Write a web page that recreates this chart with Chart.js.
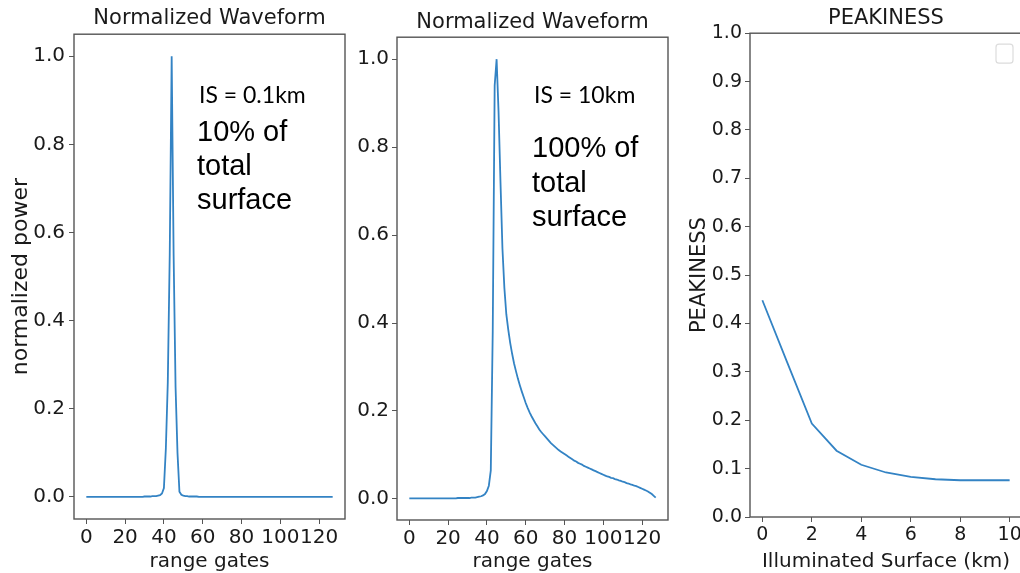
<!DOCTYPE html>
<html>
<head>
<meta charset="utf-8">
<script src="https://cdn.jsdelivr.net/npm/chart.js@4.4.1/dist/chart.umd.min.js"></script>
<style>
  html, body { margin: 0; padding: 0; background: #fff; overflow: hidden; width: 1020px; height: 573px; }
  canvas { position: absolute; top: 0; }
  .note { position: absolute; color: #000; white-space: nowrap; }
  .is { font-family: Lato, sans-serif; font-size: 23px; line-height: 24px; }
  .pct { font-family: "Liberation Sans", Arial, sans-serif; font-size: 29px; line-height: 34px; }
</style>
</head>
<body>
<canvas id="wfNarrow" width="352" height="590" style="left:0px"></canvas>
<canvas id="wfBroad" width="335" height="590" style="left:340px"></canvas>
<canvas id="peak" width="352" height="590" style="left:680px"></canvas>

<div class="note is" style="left:199px; top:82px">IS = 0.1km</div>
<div class="note pct" style="left:197px; top:114px; line-height:34px">10% of<br>total<br>surface</div>
<div class="note is" style="left:534px; top:82px">IS = 10km</div>
<div class="note pct" style="left:532px; top:130px; line-height:34.5px">100% of<br>total<br>surface</div>

<script>
// range gate index of each waveform sample
const gates = Array.from({length: 128}, (_, i) => i);

// normalized waveform, IS = 0.1 km
const narrowPower = [
  0, 0, 0, 0, 0, 0, 0, 0, 0, 0,
  0, 0, 0, 0, 0, 0, 0, 0, 0, 0,
  0, 0, 0, 0, 0, 0, 0, 0, 0, 0,
  0.001, 0.001, 0.001, 0.001, 0.002, 0.002, 0.002, 0.003, 0.004, 0.008,
  0.02, 0.11, 0.26, 0.55, 1.0, 0.55, 0.25, 0.10, 0.012, 0.005,
  0.003, 0.002, 0.002, 0.001, 0.001, 0.001, 0.001, 0.001, 0, 0,
  0, 0, 0, 0, 0, 0, 0, 0, 0, 0,
  0, 0, 0, 0, 0, 0, 0, 0, 0, 0,
  0, 0, 0, 0, 0, 0, 0, 0, 0, 0,
  0, 0, 0, 0, 0, 0, 0, 0, 0, 0,
  0, 0, 0, 0, 0, 0, 0, 0, 0, 0,
  0, 0, 0, 0, 0, 0, 0, 0, 0, 0,
  0, 0, 0, 0, 0, 0, 0, 0
];

// normalized waveform, IS = 10 km
const broadPower = [
  0.001, 0.001, 0.001, 0.001, 0.001, 0.001, 0.001, 0.001, 0.001, 0.001,
  0.001, 0.001, 0.001, 0.001, 0.001, 0.001, 0.001, 0.001, 0.001, 0.001,
  0.001, 0.001, 0.001, 0.001, 0.001, 0.002, 0.002, 0.002, 0.002, 0.002,
  0.002, 0.002, 0.003, 0.003, 0.003, 0.004, 0.005, 0.006, 0.008, 0.011,
  0.018, 0.03, 0.065, 0.38, 0.94, 1.0, 0.88, 0.72, 0.57, 0.48,
  0.42, 0.385, 0.355, 0.33, 0.308, 0.29, 0.273, 0.258, 0.244, 0.231,
  0.218, 0.207, 0.197, 0.188, 0.18, 0.172, 0.165, 0.158, 0.152, 0.147,
  0.142, 0.137, 0.132, 0.127, 0.123, 0.119, 0.115, 0.111, 0.108, 0.105,
  0.102, 0.099, 0.096, 0.093, 0.09, 0.087, 0.085, 0.082, 0.08, 0.078,
  0.075, 0.073, 0.071, 0.069, 0.067, 0.065, 0.063, 0.061, 0.059, 0.057,
  0.055, 0.053, 0.051, 0.05, 0.048, 0.047, 0.045, 0.044, 0.042, 0.041,
  0.039, 0.038, 0.036, 0.035, 0.033, 0.032, 0.030, 0.029, 0.027, 0.025,
  0.023, 0.021, 0.019, 0.017, 0.014, 0.011, 0.007, 0.003
];

// peakiness against illuminated surface
const surfaceKm = [0, 1, 2, 3, 4, 5, 6, 7, 8, 9, 10];
const peakiness = [0.448, 0.32, 0.193, 0.137, 0.108, 0.092, 0.083, 0.078, 0.076, 0.076, 0.076];

// tick values
const gateTicks = [0, 20, 40, 60, 80, 100, 120];
const powerTicks = [0.0, 0.2, 0.4, 0.6, 0.8, 1.0];
const kmTicks = [0, 2, 4, 6, 8, 10];
const peakTicks = [0.0, 0.1, 0.2, 0.3, 0.4, 0.5, 0.6, 0.7, 0.8, 0.9, 1.0];

const LINE = '#3383c4';
const INK = '#1a1a1a';
const SPINE = '#555';
const FONT = "'DejaVu Sans', sans-serif";

// box around the plot area, plus the empty legend frame on the peakiness plot
const frame = {
  id: 'frame',
  afterDatasetsDraw(chart, args, opts) {
    const {ctx, chartArea: a} = chart;
    ctx.save();
    ctx.strokeStyle = SPINE;
    ctx.lineWidth = 1.4;
    ctx.strokeRect(a.left, a.top, a.right - a.left, a.bottom - a.top);
    if (opts.emptyLegend) {
      ctx.strokeStyle = '#dcdcdc';
      ctx.lineWidth = 1.2;
      ctx.beginPath();
      ctx.roundRect(a.right - 26, a.top + 11, 17, 19, 3);
      ctx.stroke();
    }
    ctx.restore();
  }
};

function panel(id, xs, ys, o) {
  return new Chart(document.getElementById(id), {
    type: 'line',
    data: {
      datasets: [{
        data: xs.map((x, i) => ({x: x, y: ys[i]})),
        borderColor: LINE,
        borderWidth: 1.8,
        pointRadius: 0,
        tension: 0,
        fill: false
      }]
    },
    options: {
      responsive: false,
      devicePixelRatio: 1,
      animation: false,
      events: [],
      layout: {padding: {left: 0, right: o.padRight, top: 0, bottom: 0}},
      plugins: {
        legend: {display: false},
        tooltip: {enabled: false},
        title: {
          display: true,
          text: o.title,
          fullSize: false,
          color: INK,
          font: {family: FONT, size: 21, weight: 'normal'},
          padding: o.titlePad
        },
        frame: {emptyLegend: !!o.emptyLegend}
      },
      scales: {
        x: {
          type: 'linear',
          min: o.xMin,
          max: o.xMax,
          afterBuildTicks: s => { s.ticks = o.xTicks.map(v => ({value: v})); },
          afterFit: s => { s.height = o.xAxisHeight; },
          grid: {drawOnChartArea: false, drawTicks: true, tickLength: 5, tickColor: SPINE},
          border: {display: false},
          ticks: {
            color: INK, font: {family: FONT, size: o.tickSize}, padding: 2,
            autoSkip: false, maxRotation: 0,
            callback: v => String(v)
          },
          title: {
            display: true, text: o.xTitle, color: INK,
            font: {family: FONT, size: 20}, padding: {top: 0, bottom: 16}
          }
        },
        y: {
          type: 'linear',
          min: o.yMin,
          max: o.yMax,
          afterBuildTicks: s => { s.ticks = o.yTicks.map(v => ({value: v})); },
          afterFit: s => { s.width = o.yAxisWidth; },
          grid: {drawOnChartArea: false, drawTicks: true, tickLength: 5, tickColor: SPINE},
          border: {display: false},
          ticks: {
            color: INK, font: {family: FONT, size: o.tickSize}, padding: o.yTickPad,
            callback: v => v.toFixed(1)
          },
          title: {
            display: !!o.yTitle, text: o.yTitle || '', color: INK,
            font: {family: FONT, size: o.yTitleSize || 21}, padding: {top: o.yTitlePad || 0, bottom: 0}
          }
        }
      }
    },
    plugins: [frame]
  });
}

panel('wfNarrow', gates, narrowPower, {
  title: 'Normalized Waveform', titlePad: {top: 6, bottom: 3},
  xMin: -6.35, xMax: 133.35, xTicks: gateTicks, xTitle: 'range gates', xAxisHeight: 71,
  yMin: -0.05, yMax: 1.05, yTicks: powerTicks, yAxisWidth: 74, yTickPad: 4,
  yTitle: 'normalized power', yTitleSize: 22, yTitlePad: 8,
  tickSize: 20, padRight: 7
});

panel('wfBroad', gates, broadPower, {
  title: 'Normalized Waveform', titlePad: {top: 10, bottom: 2},
  xMin: -6.35, xMax: 133.35, xTicks: gateTicks, xTitle: 'range gates', xAxisHeight: 70,
  yMin: -0.048, yMax: 1.05, yTicks: powerTicks, yAxisWidth: 57, yTickPad: 3,
  tickSize: 20, padRight: 7
});

panel('peak', surfaceKm, peakiness, {
  title: 'PEAKINESS', titlePad: {top: 6, bottom: 2},
  xMin: -0.5, xMax: 10.5, xTicks: kmTicks, xTitle: 'Illuminated Surface (km)', xAxisHeight: 73,
  yMin: 0, yMax: 1, yTicks: peakTicks, yAxisWidth: 70, yTickPad: 3,
  yTitle: 'PEAKINESS', yTitleSize: 21, yTitlePad: 7,
  tickSize: 19, padRight: 10, emptyLegend: true
});
</script>
</body>
</html>
